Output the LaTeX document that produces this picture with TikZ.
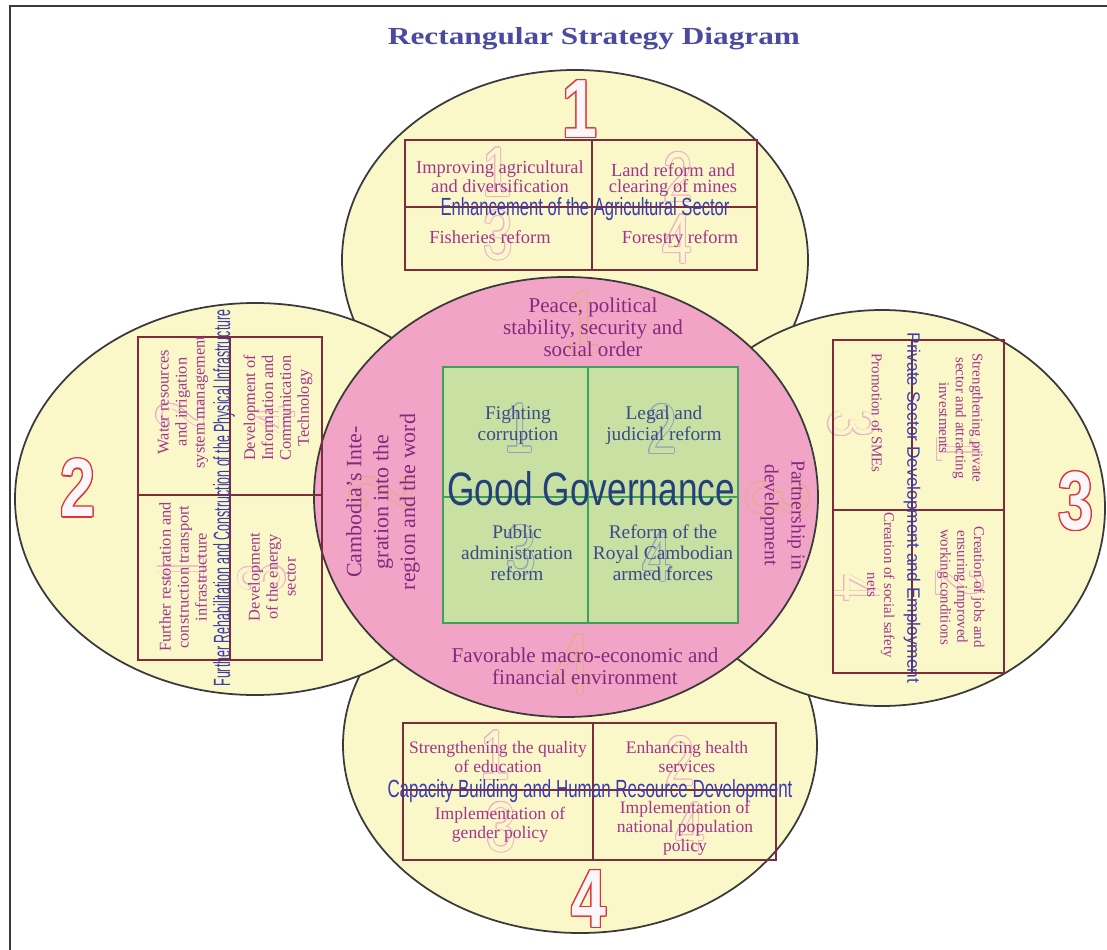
\documentclass[tikz,border=0pt]{standalone}
\usepackage{fontspec}
\setmainfont{Liberation Serif}
\setsansfont{Liberation Sans}
\usepackage{graphicx}
\usetikzlibrary{calc}
\newlength\pxu
\setlength\pxu{0.02cm}
\definecolor{yel}{HTML}{FAF8C8}
\definecolor{pinkf}{HTML}{F2A4C6}
\definecolor{grn}{HTML}{C8E0A2}
\definecolor{grnline}{HTML}{3FA05A}
\definecolor{ellline}{HTML}{3A3A3A}
\definecolor{boxline}{HTML}{7E2B3A}
\definecolor{itemtxt}{HTML}{A3358F}
\definecolor{pinktxt}{HTML}{85287F}
\definecolor{grntxt}{HTML}{3B4A8C}
\definecolor{ttlblue}{HTML}{3B3BB0}
\definecolor{ggblue}{HTML}{22407A}
\definecolor{headblue}{HTML}{4A4AA0}
\definecolor{numred}{HTML}{E0303A}
\definecolor{numfill}{HTML}{FBF6F8}
\definecolor{fpink}{HTML}{EFB0CC}
\definecolor{ftan}{HTML}{E0B080}
\definecolor{fgrey}{HTML}{9AA0B8}
\newcommand\fitt[3]{\resizebox{#1\pxu}{#2\pxu}{#3}}
% outlined digit: x, y, digit, rotation, size(pt), outline colour, fill colour, stroke(pt), series
\newcommand\odig[9]{%
  \foreach \a in {0,30,...,330}{%
    \node[rotate=#4,inner sep=0,text=#6,font=\fontsize{#5}{#5}\selectfont\sffamily#9] at ([shift={(\a:#8pt)}]#1,#2) {\scalebox{0.76}[1]{#3}};}%
  \node[rotate=#4,inner sep=0,text=#7,font=\fontsize{#5}{#5}\selectfont\sffamily#9] at (#1,#2) {\scalebox{0.76}[1]{#3}};}
\begin{document}
\begin{tikzpicture}[x=0.02cm,y=-0.02cm,
  ell/.style={draw=ellline,line width=1pt,fill=yel},
  boxl/.style={draw=boxline,line width=1.1pt},
  grnl/.style={draw=grnline,line width=0.6pt},
  frameline/.style={draw=ellline,line width=1.3pt},
  itemA/.style={inner sep=0,align=center,text=itemtxt,font=\fontsize{10.5}{9}\selectfont},
  itemB/.style={inner sep=0,align=center,text=itemtxt,font=\fontsize{9.3}{10.2}\selectfont},
  itemC/.style={inner sep=0,align=center,text=itemtxt,font=\fontsize{8.5}{9.5}\selectfont},
  itemD/.style={inner sep=0,align=center,text=itemtxt,font=\fontsize{10}{10.8}\selectfont},
  pinkitem/.style={inner sep=0,align=center,text=pinktxt,font=\fontsize{12}{12.5}\selectfont},
  pinkside/.style={inner sep=0,align=center,text=pinktxt,font=\fontsize{12.5}{15.3}\selectfont},
  grnitem/.style={inner sep=0,align=center,text=grntxt,font=\fontsize{11}{12}\selectfont},
  ttl/.style={inner sep=0,text=ttlblue,font=\sffamily}]
\useasboundingbox (0,0) rectangle (1107,950);
\fill[white] (0,0) rectangle (1107,950);
\draw[frameline] (10,950) -- (10,6) -- (1107,6);

% petals
\draw[ell] (575,260) ellipse [x radius=233,y radius=190];
\draw[ell] (580,745) ellipse [x radius=237,y radius=188];
\draw[ell] (255,499) ellipse [x radius=240,y radius=196];
\draw[ell] (882,508) ellipse [x radius=223,y radius=198];
% central ellipse
\draw[ell,fill=pinkf] (566,497) ellipse [x radius=252,y radius=220];
% green rectangle
\draw[grnl,fill=grn] (443,367) rectangle (738,623);
\draw[grnl] (588,367) -- (588,623);
\draw[grnl] (443,497) -- (738,497);

% faint digits
\odig{497}{172}{1}{0}{40}{fpink}{yel}{0.5}{}
\odig{678}{177}{2}{0}{40}{fpink}{yel}{0.5}{}
\odig{498}{235}{3}{0}{40}{fpink}{yel}{0.5}{}
\odig{677}{239}{4}{0}{40}{fpink}{yel}{0.5}{}
\odig{181}{570}{1}{90}{38}{fpink}{yel}{0.5}{}
\odig{180}{415}{2}{90}{38}{fpink}{yel}{0.5}{}
\odig{262}{578}{3}{90}{38}{fpink}{yel}{0.5}{}
\odig{272}{420}{4}{90}{38}{fpink}{yel}{0.5}{}
\odig{960}{449}{1}{-90}{38}{fpink}{yel}{0.5}{}
\odig{960}{583}{2}{-90}{38}{fpink}{yel}{0.5}{}
\odig{852}{424}{3}{-90}{38}{fpink}{yel}{0.5}{}
\odig{857}{588}{4}{-90}{38}{fpink}{yel}{0.5}{}
\odig{495}{755}{1}{0}{40}{fpink}{yel}{0.5}{}
\odig{680}{761}{2}{0}{40}{fpink}{yel}{0.5}{}
\odig{501}{827}{3}{0}{40}{fpink}{yel}{0.5}{}
\odig{690}{827}{4}{0}{40}{fpink}{yel}{0.5}{}
\odig{583}{322}{1}{0}{50}{ftan}{pinkf}{0.5}{}
\odig{381}{492}{2}{90}{50}{ftan}{pinkf}{0.5}{}
\odig{778}{498}{3}{-90}{50}{ftan}{pinkf}{0.5}{}
\odig{573}{665}{4}{0}{50}{ftan}{pinkf}{0.5}{}
\odig{519}{428}{1}{0}{40}{fgrey}{grn}{0.5}{}
\odig{662}{429}{2}{0}{40}{fgrey}{grn}{0.5}{}
\odig{521}{550}{3}{0}{40}{fgrey}{grn}{0.5}{}
\odig{657}{557}{4}{0}{40}{fgrey}{grn}{0.5}{}

% boxes
\draw[boxl] (405,140) rectangle (757,270);
\draw[boxl] (592,140) -- (592,270);
\draw[boxl] (405,207) -- (757,207);
\draw[boxl] (138,337) rectangle (322,660);
\draw[boxl] (230,337) -- (230,660);
\draw[boxl] (138,495) -- (322,495);
\draw[boxl] (833,340) rectangle (1004,673);
\draw[boxl] (912,340) -- (912,673);
\draw[boxl] (833,510) -- (1004,510);
\draw[boxl] (403,723) rectangle (776,860);
\draw[boxl] (593,723) -- (593,860);
\draw[boxl] (403,790) -- (776,790);

% big numbers
\odig{580}{109}{1}{0}{47}{numred}{numfill}{0.75}{\bfseries}
\odig{78}{488}{2}{0}{47}{numred}{numfill}{0.75}{\bfseries}
\odig{1076}{501}{3}{0}{47}{numred}{numfill}{0.75}{\bfseries}
\odig{589}{899}{4}{0}{47}{numred}{numfill}{0.75}{\bfseries}

% heading
\node[inner sep=0,anchor=base,text=headblue,font=\bfseries] (head) at (594,45) {\fitt{412}{17}{Rectangular Strategy Diagram}};

% pillar 1
\node[itemA] (t11) at (500,177) {Improving agricultural\\and diversification};
\node[itemA] (t12) at (673,180) {Land reform and\\clearing of mines};
\node[itemA] (t13) at (490,237) {Fisheries reform};
\node[itemA] (t14) at (680,239) {Forestry reform};
\node[ttl,anchor=base] (t1) at (585,215) {\fitt{289}{18}{Enhancement of the Agricultural Sector}};

% pillar 2
\node[itemB,rotate=90] (l1) at (183,402) {Water resources\\and irrigation\\system management};
\node[itemB,rotate=90] (l2) at (278,408) {Development of\\Information and\\Communication\\Technology};
\node[itemB,rotate=90] (l3) at (183,577) {Further restoration and\\construction transport\\infrastructure};
\node[itemB,rotate=90] (l4) at (272,577) {Development\\of the energy\\sector};
\node[ttl,rotate=90] (lt) at (224,498) {\fitt{377}{17}{Further Rehabilitation and Construction of the Physical Infrastructure}};

% pillar 3
\node[itemC,rotate=-90] (r1) at (961,418) {Strengthening private\\sector and attracting\\investments};
\node[itemC,rotate=-90] (r2) at (877,413) {Promotion of SMEs};
\node[itemC,rotate=-90] (r3) at (961,587) {Creation of jobs and\\ensuring improved\\working conditions};
\node[itemC,rotate=-90] (r4) at (881,585) {Creation of social safety\\nets};
\node[ttl,rotate=-90] (rt) at (912,508) {\fitt{351}{13}{Private Sector Development and Employment}};

% pillar 4
\node[itemD] (b1) at (498,757) {Strengthening the quality\\of education};
\node[itemD] (b2) at (687,757) {Enhancing health\\services};
\node[itemD] (b3) at (500,825) {Implementation of\\gender policy};
\node[itemD] (b4) at (685,828) {Implementation of\\national population\\policy};
\node[ttl,anchor=base] (bt) at (590,797) {\fitt{405}{18}{Capacity Building and Human Resource Development}};

% central ellipse texts
\node[pinkitem] (p1) at (593,327) {Peace, political\\stability, security and\\social order};
\node[pinkside,rotate=90] (p2) at (383,502) {Cambodia's Inte-\\gration into the\\region and the word};
\node[pinkside,rotate=-90,font=\fontsize{11.2}{15.3}\selectfont] (p3) at (783,515) {Partnership in\\development};
\node[pinkitem] (p4) at (585,666) {Favorable macro-economic and\\financial environment};

% green core
\node[grnitem] (g1) at (518,425) {Fighting\\corruption};
\node[grnitem] (g2) at (664,425) {Legal and\\judicial reform};
\node[grnitem] (g3) at (517,553) {Public\\administration\\reform};
\node[grnitem] (g4) at (663,553) {Reform of the\\Royal Cambodian\\armed forces};
\node[inner sep=0,anchor=base,text=ggblue,font=\sffamily] (gg) at (591,505) {\fitt{288}{34}{Good Governance}};
\end{tikzpicture}
\end{document}
